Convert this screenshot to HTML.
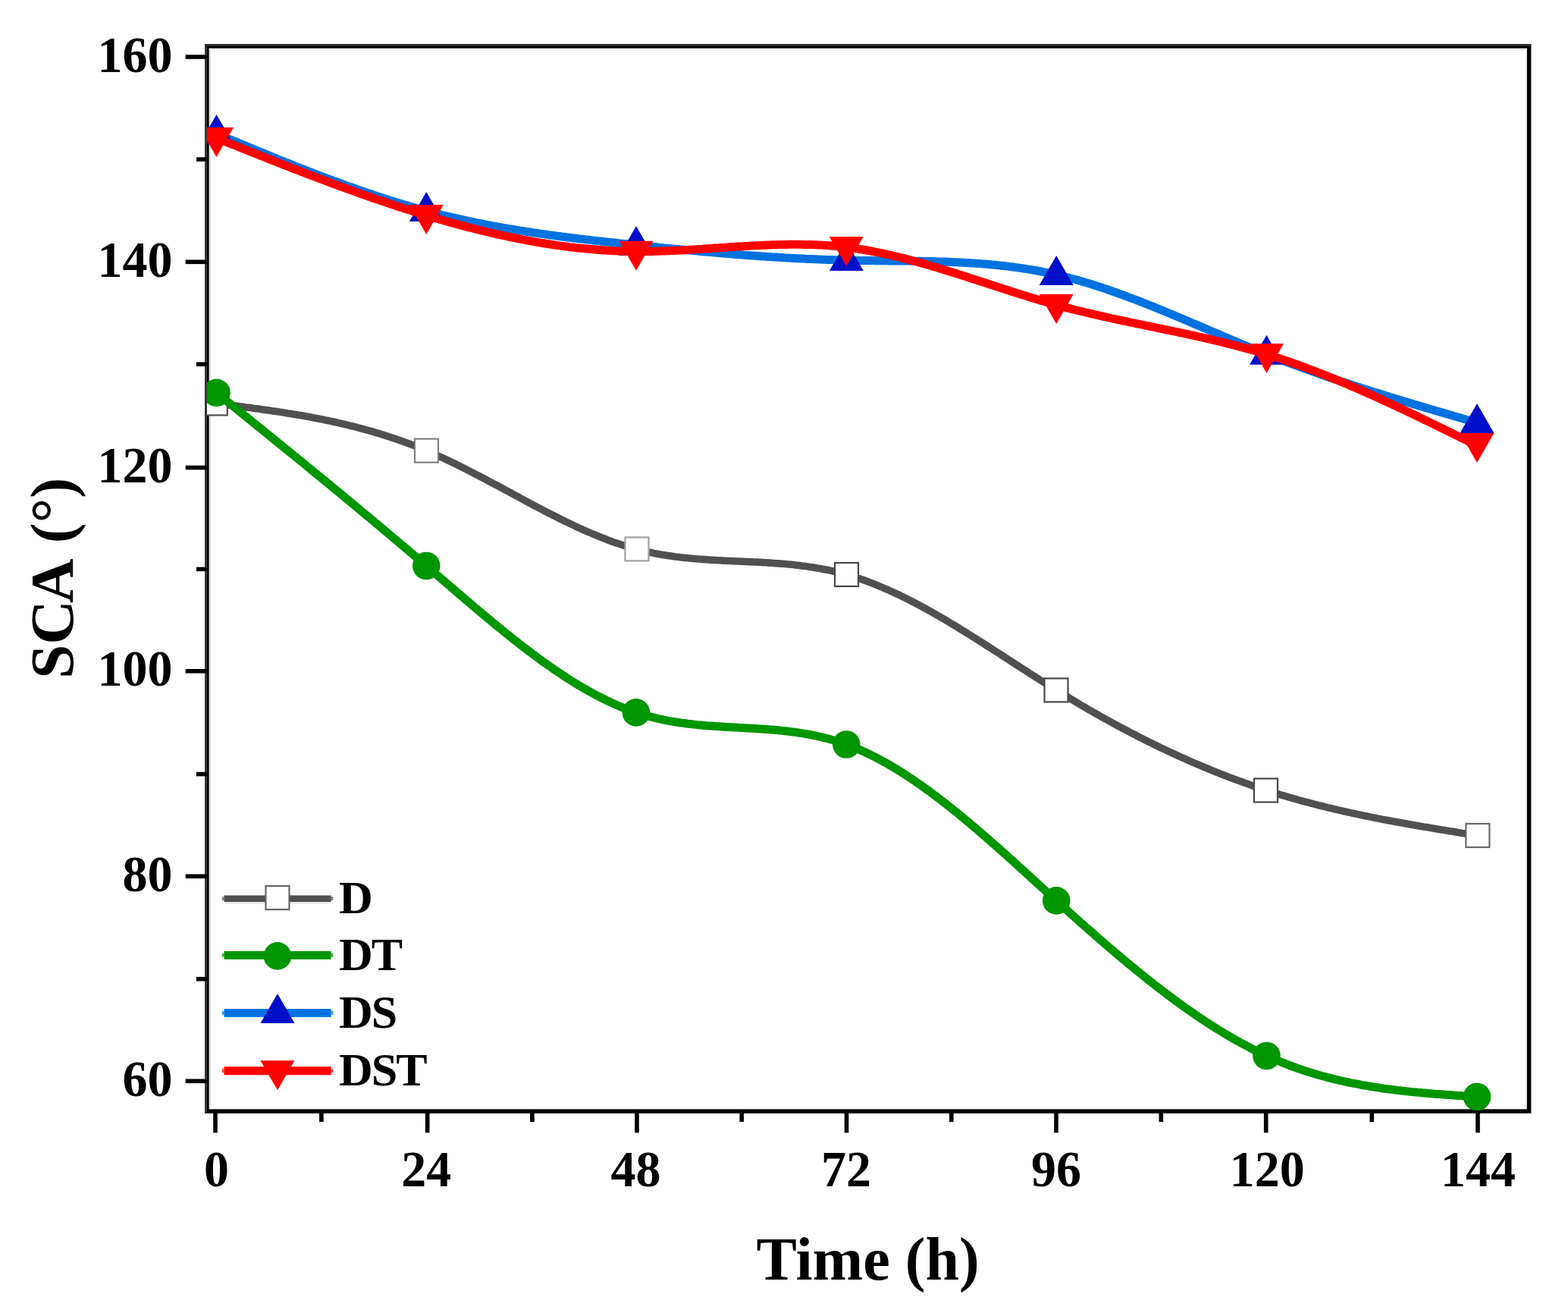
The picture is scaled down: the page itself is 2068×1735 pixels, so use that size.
<!DOCTYPE html>
<html><head><meta charset="utf-8"><title>SCA vs Time</title>
<style>html,body{margin:0;padding:0;background:#fff;overflow:hidden;}svg{display:block;}</style>
</head><body>
<svg width="2068" height="1735" viewBox="0 0 2068 1735">
<rect width="2068" height="1735" fill="#fff"/>
<defs><clipPath id="pc"><rect x="273.0" y="61.0" width="1743.6" height="1404.1"/></clipPath></defs>
<rect x="270.2" y="58.2" width="1749.2" height="1409.7" fill="#000"/><rect x="270.2" y="58.2" width="2.8" height="1409.7" fill="#383838"/><rect x="270.2" y="58.2" width="1749.2" height="2.8" fill="#2a2a2a"/><rect x="275.8" y="63.8" width="1738.0" height="1398.5" fill="#fff"/><rect x="275.8" y="63.8" width="2.6" height="1398.5" fill="#e6e6e6"/><rect x="275.8" y="63.8" width="1738.0" height="2.6" fill="#ebebeb"/>
<g stroke="#000" stroke-width="5.6" stroke-linecap="butt"><line x1="244.7" y1="1425.3" x2="273.0" y2="1425.3"/><line x1="244.7" y1="1155.3" x2="273.0" y2="1155.3"/><line x1="244.7" y1="884.8" x2="273.0" y2="884.8"/><line x1="244.7" y1="616.5" x2="273.0" y2="616.5"/><line x1="244.7" y1="345.3" x2="273.0" y2="345.3"/><line x1="244.7" y1="75.0" x2="273.0" y2="75.0"/><line x1="259.0" y1="1290.7" x2="273.0" y2="1290.7"/><line x1="259.0" y1="1020.6" x2="273.0" y2="1020.6"/><line x1="259.0" y1="750.4" x2="273.0" y2="750.4"/><line x1="259.0" y1="480.2" x2="273.0" y2="480.2"/><line x1="259.0" y1="210.1" x2="273.0" y2="210.1"/><line x1="284.0" y1="1465.1" x2="284.0" y2="1493.4"/><line x1="563.7" y1="1465.1" x2="563.7" y2="1493.4"/><line x1="840.0" y1="1465.1" x2="840.0" y2="1493.4"/><line x1="1116.5" y1="1465.1" x2="1116.5" y2="1493.4"/><line x1="1393.0" y1="1465.1" x2="1393.0" y2="1493.4"/><line x1="1669.7" y1="1465.1" x2="1669.7" y2="1493.4"/><line x1="1949.0" y1="1465.1" x2="1949.0" y2="1493.4"/><line x1="423.9" y1="1465.1" x2="423.9" y2="1479.1"/><line x1="701.9" y1="1465.1" x2="701.9" y2="1479.1"/><line x1="978.2" y1="1465.1" x2="978.2" y2="1479.1"/><line x1="1254.8" y1="1465.1" x2="1254.8" y2="1479.1"/><line x1="1531.3" y1="1465.1" x2="1531.3" y2="1479.1"/><line x1="1809.3" y1="1465.1" x2="1809.3" y2="1479.1"/></g>
<g clip-path="url(#pc)">
<polyline points="285.5,531.9 288.3,532.2 291.1,532.6 293.8,532.9 296.6,533.3 299.4,533.7 302.2,534.0 304.9,534.4 307.7,534.7 310.5,535.1 313.3,535.4 316.0,535.8 318.8,536.1 321.6,536.5 324.4,536.9 327.1,537.2 329.9,537.6 332.7,538.0 335.5,538.4 338.2,538.7 341.0,539.1 343.8,539.5 346.6,539.9 349.3,540.3 352.1,540.7 354.9,541.1 357.7,541.5 360.4,541.9 363.2,542.3 366.0,542.7 368.8,543.1 371.5,543.6 374.3,544.0 377.1,544.4 379.9,544.9 382.6,545.3 385.4,545.8 388.2,546.2 391.0,546.7 393.7,547.2 396.5,547.6 399.3,548.1 402.1,548.6 404.8,549.1 407.6,549.6 410.4,550.1 413.2,550.7 415.9,551.2 418.7,551.7 421.5,552.3 424.3,552.8 427.0,553.4 429.8,554.0 432.6,554.5 435.4,555.1 438.2,555.7 440.9,556.3 443.7,556.9 446.5,557.6 449.3,558.2 452.0,558.8 454.8,559.5 457.6,560.1 460.4,560.8 463.1,561.5 465.9,562.2 468.7,562.9 471.5,563.6 474.2,564.3 477.0,565.1 479.8,565.8 482.6,566.6 485.3,567.4 488.1,568.1 490.9,568.9 493.7,569.7 496.4,570.6 499.2,571.4 502.0,572.2 504.8,573.1 507.5,574.0 510.3,574.9 513.1,575.8 515.9,576.7 518.6,577.6 521.4,578.5 524.2,579.5 527.0,580.5 529.7,581.4 532.5,582.4 535.3,583.5 538.1,584.5 540.8,585.5 543.6,586.6 546.4,587.6 549.2,588.7 551.9,589.8 554.7,591.0 557.5,592.1 560.3,593.2 563.0,594.4 565.8,595.6 568.6,596.8 571.4,598.0 574.1,599.2 576.9,600.5 579.7,601.8 582.5,603.0 585.2,604.3 588.0,605.6 590.8,606.9 593.6,608.3 596.4,609.6 599.1,610.9 601.9,612.3 604.7,613.7 607.5,615.0 610.2,616.4 613.0,617.8 615.8,619.2 618.6,620.7 621.3,622.1 624.1,623.5 626.9,625.0 629.7,626.4 632.4,627.9 635.2,629.3 638.0,630.8 640.8,632.2 643.5,633.7 646.3,635.2 649.1,636.7 651.9,638.2 654.6,639.6 657.4,641.1 660.2,642.6 663.0,644.1 665.7,645.6 668.5,647.1 671.3,648.6 674.1,650.1 676.8,651.6 679.6,653.1 682.4,654.6 685.2,656.1 687.9,657.6 690.7,659.1 693.5,660.6 696.3,662.0 699.0,663.5 701.8,665.0 704.6,666.5 707.4,667.9 710.1,669.4 712.9,670.8 715.7,672.3 718.5,673.7 721.2,675.2 724.0,676.6 726.8,678.0 729.6,679.4 732.3,680.8 735.1,682.2 737.9,683.6 740.7,685.0 743.5,686.4 746.2,687.7 749.0,689.0 751.8,690.4 754.6,691.7 757.3,693.0 760.1,694.3 762.9,695.6 765.7,696.8 768.4,698.1 771.2,699.3 774.0,700.6 776.8,701.8 779.5,702.9 782.3,704.1 785.1,705.3 787.9,706.4 790.6,707.5 793.4,708.7 796.2,709.7 799.0,710.8 801.7,711.9 804.5,712.9 807.3,713.9 810.1,714.9 812.8,715.9 815.6,716.8 818.4,717.7 821.2,718.6 823.9,719.5 826.7,720.4 829.5,721.2 832.3,722.0 835.0,722.8 837.8,723.6 840.6,724.3 843.4,725.0 846.1,725.7 848.9,726.4 851.7,727.0 854.5,727.7 857.2,728.2 860.0,728.8 862.8,729.4 865.6,729.9 868.3,730.4 871.1,730.9 873.9,731.4 876.7,731.8 879.4,732.3 882.2,732.7 885.0,733.1 887.8,733.5 890.6,733.9 893.3,734.2 896.1,734.6 898.9,734.9 901.7,735.2 904.4,735.5 907.2,735.8 910.0,736.0 912.8,736.3 915.5,736.5 918.3,736.8 921.1,737.0 923.9,737.2 926.6,737.4 929.4,737.6 932.2,737.8 935.0,738.0 937.7,738.2 940.5,738.3 943.3,738.5 946.1,738.7 948.8,738.8 951.6,738.9 954.4,739.1 957.2,739.2 959.9,739.4 962.7,739.5 965.5,739.6 968.3,739.7 971.0,739.9 973.8,740.0 976.6,740.1 979.4,740.2 982.1,740.4 984.9,740.5 987.7,740.6 990.5,740.7 993.2,740.9 996.0,741.0 998.8,741.1 1001.6,741.3 1004.3,741.4 1007.1,741.6 1009.9,741.8 1012.7,741.9 1015.4,742.1 1018.2,742.3 1021.0,742.5 1023.8,742.7 1026.5,742.9 1029.3,743.1 1032.1,743.3 1034.9,743.5 1037.6,743.8 1040.4,744.0 1043.2,744.3 1046.0,744.6 1048.8,744.9 1051.5,745.2 1054.3,745.5 1057.1,745.9 1059.9,746.2 1062.6,746.6 1065.4,747.0 1068.2,747.4 1071.0,747.8 1073.7,748.2 1076.5,748.7 1079.3,749.2 1082.1,749.6 1084.8,750.2 1087.6,750.7 1090.4,751.2 1093.2,751.8 1095.9,752.4 1098.7,753.0 1101.5,753.7 1104.3,754.3 1107.0,755.0 1109.8,755.7 1112.6,756.5 1115.4,757.2 1118.1,758.0 1120.9,758.8 1123.7,759.7 1126.5,760.5 1129.2,761.4 1132.0,762.3 1134.8,763.3 1137.6,764.2 1140.3,765.2 1143.1,766.2 1145.9,767.3 1148.7,768.3 1151.4,769.4 1154.2,770.5 1157.0,771.6 1159.8,772.8 1162.5,773.9 1165.3,775.1 1168.1,776.3 1170.9,777.5 1173.6,778.8 1176.4,780.0 1179.2,781.3 1182.0,782.6 1184.7,783.9 1187.5,785.2 1190.3,786.6 1193.1,788.0 1195.9,789.3 1198.6,790.7 1201.4,792.2 1204.2,793.6 1207.0,795.0 1209.7,796.5 1212.5,798.0 1215.3,799.5 1218.1,801.0 1220.8,802.5 1223.6,804.0 1226.4,805.6 1229.2,807.1 1231.9,808.7 1234.7,810.3 1237.5,811.9 1240.3,813.5 1243.0,815.1 1245.8,816.7 1248.6,818.4 1251.4,820.0 1254.1,821.7 1256.9,823.4 1259.7,825.0 1262.5,826.7 1265.2,828.4 1268.0,830.1 1270.8,831.8 1273.6,833.6 1276.3,835.3 1279.1,837.0 1281.9,838.8 1284.7,840.5 1287.4,842.2 1290.2,844.0 1293.0,845.8 1295.8,847.5 1298.5,849.3 1301.3,851.1 1304.1,852.9 1306.9,854.6 1309.6,856.4 1312.4,858.2 1315.2,860.0 1318.0,861.8 1320.7,863.6 1323.5,865.4 1326.3,867.2 1329.1,869.0 1331.8,870.8 1334.6,872.6 1337.4,874.4 1340.2,876.2 1342.9,877.9 1345.7,879.7 1348.5,881.5 1351.3,883.3 1354.1,885.1 1356.8,886.9 1359.6,888.7 1362.4,890.5 1365.2,892.2 1367.9,894.0 1370.7,895.8 1373.5,897.5 1376.3,899.3 1379.0,901.0 1381.8,902.8 1384.6,904.5 1387.4,906.3 1390.1,908.0 1392.9,909.7 1395.7,911.4 1398.5,913.1 1401.2,914.8 1404.0,916.5 1406.8,918.2 1409.6,919.9 1412.3,921.6 1415.1,923.2 1417.9,924.9 1420.7,926.5 1423.4,928.2 1426.2,929.8 1429.0,931.4 1431.8,933.0 1434.5,934.7 1437.3,936.3 1440.1,937.8 1442.9,939.4 1445.6,941.0 1448.4,942.6 1451.2,944.2 1454.0,945.7 1456.7,947.3 1459.5,948.8 1462.3,950.3 1465.1,951.9 1467.8,953.4 1470.6,954.9 1473.4,956.4 1476.2,957.9 1478.9,959.4 1481.7,960.8 1484.5,962.3 1487.3,963.8 1490.0,965.2 1492.8,966.7 1495.6,968.1 1498.4,969.6 1501.2,971.0 1503.9,972.4 1506.7,973.8 1509.5,975.2 1512.3,976.6 1515.0,978.0 1517.8,979.3 1520.6,980.7 1523.4,982.1 1526.1,983.4 1528.9,984.8 1531.7,986.1 1534.5,987.4 1537.2,988.7 1540.0,990.1 1542.8,991.4 1545.6,992.6 1548.3,993.9 1551.1,995.2 1553.9,996.5 1556.7,997.7 1559.4,999.0 1562.2,1000.2 1565.0,1001.5 1567.8,1002.7 1570.5,1003.9 1573.3,1005.1 1576.1,1006.3 1578.9,1007.5 1581.6,1008.7 1584.4,1009.9 1587.2,1011.0 1590.0,1012.2 1592.7,1013.3 1595.5,1014.5 1598.3,1015.6 1601.1,1016.7 1603.8,1017.9 1606.6,1019.0 1609.4,1020.1 1612.2,1021.2 1614.9,1022.2 1617.7,1023.3 1620.5,1024.4 1623.3,1025.4 1626.0,1026.5 1628.8,1027.5 1631.6,1028.5 1634.4,1029.5 1637.1,1030.6 1639.9,1031.6 1642.7,1032.6 1645.5,1033.5 1648.3,1034.5 1651.0,1035.5 1653.8,1036.4 1656.6,1037.4 1659.4,1038.3 1662.1,1039.3 1664.9,1040.2 1667.7,1041.1 1670.5,1042.0 1673.2,1042.9 1676.0,1043.8 1678.8,1044.6 1681.6,1045.5 1684.3,1046.4 1687.1,1047.2 1689.9,1048.1 1692.7,1048.9 1695.4,1049.7 1698.2,1050.5 1701.0,1051.3 1703.8,1052.1 1706.5,1052.9 1709.3,1053.7 1712.1,1054.5 1714.9,1055.3 1717.6,1056.0 1720.4,1056.8 1723.2,1057.5 1726.0,1058.2 1728.7,1059.0 1731.5,1059.7 1734.3,1060.4 1737.1,1061.1 1739.8,1061.8 1742.6,1062.5 1745.4,1063.2 1748.2,1063.9 1750.9,1064.6 1753.7,1065.2 1756.5,1065.9 1759.3,1066.6 1762.0,1067.2 1764.8,1067.9 1767.6,1068.5 1770.4,1069.1 1773.1,1069.8 1775.9,1070.4 1778.7,1071.0 1781.5,1071.6 1784.2,1072.2 1787.0,1072.8 1789.8,1073.4 1792.6,1074.0 1795.3,1074.6 1798.1,1075.2 1800.9,1075.7 1803.7,1076.3 1806.5,1076.9 1809.2,1077.4 1812.0,1078.0 1814.8,1078.5 1817.6,1079.1 1820.3,1079.6 1823.1,1080.2 1825.9,1080.7 1828.7,1081.2 1831.4,1081.7 1834.2,1082.3 1837.0,1082.8 1839.8,1083.3 1842.5,1083.8 1845.3,1084.3 1848.1,1084.8 1850.9,1085.3 1853.6,1085.8 1856.4,1086.3 1859.2,1086.8 1862.0,1087.3 1864.7,1087.8 1867.5,1088.3 1870.3,1088.7 1873.1,1089.2 1875.8,1089.7 1878.6,1090.2 1881.4,1090.6 1884.2,1091.1 1886.9,1091.6 1889.7,1092.0 1892.5,1092.5 1895.3,1093.0 1898.0,1093.4 1900.8,1093.9 1903.6,1094.3 1906.4,1094.8 1909.1,1095.2 1911.9,1095.7 1914.7,1096.1 1917.5,1096.6 1920.2,1097.0 1923.0,1097.5 1925.8,1097.9 1928.6,1098.4 1931.3,1098.8 1934.1,1099.3 1936.9,1099.7 1939.7,1100.2 1942.4,1100.6 1945.2,1101.1 1948.0,1101.5" fill="none" stroke="#505050" stroke-width="9.6" stroke-linejoin="round"/>
<rect x="268.8" y="516.4" width="31.0" height="31.0" fill="#fff" stroke="#505050" stroke-width="2.2"/>
<rect x="547.0" y="578.6" width="31.0" height="31.0" fill="#fff" stroke="#808080" stroke-width="2.2"/>
<rect x="824.5" y="708.4" width="31.0" height="31.0" fill="#fff" stroke="#a0a0a0" stroke-width="2.2"/>
<rect x="1101.0" y="742.0" width="31.0" height="31.0" fill="#fff" stroke="#464646" stroke-width="2.2"/>
<rect x="1377.5" y="894.4" width="31.0" height="31.0" fill="#fff" stroke="#484848" stroke-width="2.2"/>
<rect x="1654.0" y="1026.5" width="31.0" height="31.0" fill="#fff" stroke="#484848" stroke-width="2.2"/>
<rect x="1933.4" y="1086.0" width="31.0" height="31.0" fill="#fff" stroke="#6a6a6a" stroke-width="2.2"/>
<polyline points="285.5,517.8 288.3,520.0 291.1,522.3 293.8,524.5 296.6,526.8 299.4,529.0 302.2,531.3 304.9,533.5 307.7,535.7 310.5,538.0 313.3,540.2 316.0,542.5 318.8,544.7 321.6,547.0 324.4,549.2 327.1,551.5 329.9,553.7 332.7,556.0 335.5,558.2 338.2,560.4 341.0,562.7 343.8,564.9 346.6,567.2 349.3,569.4 352.1,571.7 354.9,573.9 357.7,576.2 360.4,578.4 363.2,580.7 366.0,583.0 368.8,585.2 371.5,587.5 374.3,589.7 377.1,592.0 379.9,594.2 382.6,596.5 385.4,598.8 388.2,601.0 391.0,603.3 393.7,605.5 396.5,607.8 399.3,610.1 402.1,612.3 404.8,614.6 407.6,616.9 410.4,619.1 413.2,621.4 415.9,623.7 418.7,626.0 421.5,628.2 424.3,630.5 427.0,632.8 429.8,635.1 432.6,637.3 435.4,639.6 438.2,641.9 440.9,644.2 443.7,646.5 446.5,648.8 449.3,651.1 452.0,653.4 454.8,655.6 457.6,657.9 460.4,660.2 463.1,662.5 465.9,664.8 468.7,667.1 471.5,669.4 474.2,671.7 477.0,674.1 479.8,676.4 482.6,678.7 485.3,681.0 488.1,683.3 490.9,685.6 493.7,687.9 496.4,690.3 499.2,692.6 502.0,694.9 504.8,697.2 507.5,699.6 510.3,701.9 513.1,704.2 515.9,706.6 518.6,708.9 521.4,711.2 524.2,713.6 527.0,715.9 529.7,718.3 532.5,720.6 535.3,723.0 538.1,725.3 540.8,727.7 543.6,730.0 546.4,732.4 549.2,734.8 551.9,737.1 554.7,739.5 557.5,741.9 560.3,744.3 563.0,746.6 565.8,749.0 568.6,751.4 571.4,753.8 574.1,756.2 576.9,758.6 579.7,761.0 582.5,763.3 585.2,765.7 588.0,768.1 590.8,770.5 593.6,772.9 596.4,775.3 599.1,777.7 601.9,780.1 604.7,782.4 607.5,784.8 610.2,787.2 613.0,789.6 615.8,791.9 618.6,794.3 621.3,796.7 624.1,799.0 626.9,801.4 629.7,803.7 632.4,806.0 635.2,808.4 638.0,810.7 640.8,813.0 643.5,815.3 646.3,817.6 649.1,819.9 651.9,822.2 654.6,824.5 657.4,826.8 660.2,829.1 663.0,831.3 665.7,833.6 668.5,835.8 671.3,838.0 674.1,840.2 676.8,842.4 679.6,844.6 682.4,846.8 685.2,849.0 687.9,851.1 690.7,853.3 693.5,855.4 696.3,857.5 699.0,859.6 701.8,861.7 704.6,863.7 707.4,865.8 710.1,867.8 712.9,869.9 715.7,871.9 718.5,873.9 721.2,875.8 724.0,877.8 726.8,879.7 729.6,881.7 732.3,883.6 735.1,885.4 737.9,887.3 740.7,889.2 743.5,891.0 746.2,892.8 749.0,894.6 751.8,896.4 754.6,898.1 757.3,899.8 760.1,901.5 762.9,903.2 765.7,904.9 768.4,906.5 771.2,908.1 774.0,909.7 776.8,911.3 779.5,912.8 782.3,914.3 785.1,915.8 787.9,917.3 790.6,918.7 793.4,920.1 796.2,921.5 799.0,922.9 801.7,924.2 804.5,925.5 807.3,926.8 810.1,928.1 812.8,929.3 815.6,930.5 818.4,931.7 821.2,932.8 823.9,933.9 826.7,935.0 829.5,936.0 832.3,937.1 835.0,938.0 837.8,939.0 840.6,939.9 843.4,940.8 846.1,941.7 848.9,942.5 851.7,943.3 854.5,944.1 857.2,944.8 860.0,945.5 862.8,946.2 865.6,946.9 868.3,947.5 871.1,948.2 873.9,948.7 876.7,949.3 879.4,949.8 882.2,950.4 885.0,950.9 887.8,951.3 890.6,951.8 893.3,952.2 896.1,952.7 898.9,953.1 901.7,953.4 904.4,953.8 907.2,954.2 910.0,954.5 912.8,954.8 915.5,955.1 918.3,955.4 921.1,955.7 923.9,955.9 926.6,956.2 929.4,956.4 932.2,956.7 935.0,956.9 937.7,957.1 940.5,957.3 943.3,957.5 946.1,957.7 948.8,957.8 951.6,958.0 954.4,958.2 957.2,958.4 959.9,958.5 962.7,958.7 965.5,958.8 968.3,959.0 971.0,959.1 973.8,959.3 976.6,959.4 979.4,959.6 982.1,959.7 984.9,959.9 987.7,960.0 990.5,960.2 993.2,960.3 996.0,960.5 998.8,960.7 1001.6,960.9 1004.3,961.0 1007.1,961.2 1009.9,961.4 1012.7,961.6 1015.4,961.9 1018.2,962.1 1021.0,962.3 1023.8,962.6 1026.5,962.8 1029.3,963.1 1032.1,963.4 1034.9,963.7 1037.6,964.0 1040.4,964.3 1043.2,964.7 1046.0,965.0 1048.8,965.4 1051.5,965.8 1054.3,966.2 1057.1,966.6 1059.9,967.1 1062.6,967.5 1065.4,968.0 1068.2,968.5 1071.0,969.1 1073.7,969.6 1076.5,970.2 1079.3,970.8 1082.1,971.5 1084.8,972.1 1087.6,972.8 1090.4,973.5 1093.2,974.2 1095.9,975.0 1098.7,975.8 1101.5,976.6 1104.3,977.5 1107.0,978.3 1109.8,979.2 1112.6,980.2 1115.4,981.2 1118.1,982.2 1120.9,983.2 1123.7,984.3 1126.5,985.4 1129.2,986.5 1132.0,987.7 1134.8,988.9 1137.6,990.1 1140.3,991.4 1143.1,992.7 1145.9,994.0 1148.7,995.4 1151.4,996.8 1154.2,998.2 1157.0,999.6 1159.8,1001.1 1162.5,1002.6 1165.3,1004.1 1168.1,1005.7 1170.9,1007.2 1173.6,1008.8 1176.4,1010.5 1179.2,1012.1 1182.0,1013.8 1184.7,1015.5 1187.5,1017.2 1190.3,1019.0 1193.1,1020.8 1195.9,1022.6 1198.6,1024.4 1201.4,1026.2 1204.2,1028.1 1207.0,1030.0 1209.7,1031.9 1212.5,1033.8 1215.3,1035.8 1218.1,1037.8 1220.8,1039.8 1223.6,1041.8 1226.4,1043.8 1229.2,1045.9 1231.9,1047.9 1234.7,1050.0 1237.5,1052.1 1240.3,1054.2 1243.0,1056.4 1245.8,1058.5 1248.6,1060.7 1251.4,1062.9 1254.1,1065.1 1256.9,1067.3 1259.7,1069.6 1262.5,1071.8 1265.2,1074.1 1268.0,1076.4 1270.8,1078.6 1273.6,1080.9 1276.3,1083.3 1279.1,1085.6 1281.9,1087.9 1284.7,1090.3 1287.4,1092.6 1290.2,1095.0 1293.0,1097.4 1295.8,1099.8 1298.5,1102.2 1301.3,1104.6 1304.1,1107.0 1306.9,1109.5 1309.6,1111.9 1312.4,1114.4 1315.2,1116.8 1318.0,1119.3 1320.7,1121.7 1323.5,1124.2 1326.3,1126.7 1329.1,1129.2 1331.8,1131.7 1334.6,1134.2 1337.4,1136.7 1340.2,1139.2 1342.9,1141.7 1345.7,1144.2 1348.5,1146.7 1351.3,1149.3 1354.1,1151.8 1356.8,1154.3 1359.6,1156.8 1362.4,1159.4 1365.2,1161.9 1367.9,1164.4 1370.7,1166.9 1373.5,1169.5 1376.3,1172.0 1379.0,1174.5 1381.8,1177.1 1384.6,1179.6 1387.4,1182.1 1390.1,1184.6 1392.9,1187.1 1395.7,1189.6 1398.5,1192.2 1401.2,1194.7 1404.0,1197.2 1406.8,1199.7 1409.6,1202.2 1412.3,1204.7 1415.1,1207.1 1417.9,1209.6 1420.7,1212.1 1423.4,1214.6 1426.2,1217.1 1429.0,1219.5 1431.8,1222.0 1434.5,1224.4 1437.3,1226.9 1440.1,1229.3 1442.9,1231.7 1445.6,1234.2 1448.4,1236.6 1451.2,1239.0 1454.0,1241.4 1456.7,1243.8 1459.5,1246.2 1462.3,1248.6 1465.1,1251.0 1467.8,1253.3 1470.6,1255.7 1473.4,1258.0 1476.2,1260.4 1478.9,1262.7 1481.7,1265.0 1484.5,1267.4 1487.3,1269.7 1490.0,1272.0 1492.8,1274.2 1495.6,1276.5 1498.4,1278.8 1501.2,1281.0 1503.9,1283.3 1506.7,1285.5 1509.5,1287.8 1512.3,1290.0 1515.0,1292.2 1517.8,1294.4 1520.6,1296.5 1523.4,1298.7 1526.1,1300.9 1528.9,1303.0 1531.7,1305.2 1534.5,1307.3 1537.2,1309.4 1540.0,1311.5 1542.8,1313.6 1545.6,1315.6 1548.3,1317.7 1551.1,1319.7 1553.9,1321.7 1556.7,1323.8 1559.4,1325.8 1562.2,1327.7 1565.0,1329.7 1567.8,1331.7 1570.5,1333.6 1573.3,1335.5 1576.1,1337.5 1578.9,1339.3 1581.6,1341.2 1584.4,1343.1 1587.2,1344.9 1590.0,1346.8 1592.7,1348.6 1595.5,1350.4 1598.3,1352.2 1601.1,1353.9 1603.8,1355.7 1606.6,1357.4 1609.4,1359.1 1612.2,1360.8 1614.9,1362.5 1617.7,1364.1 1620.5,1365.8 1623.3,1367.4 1626.0,1369.0 1628.8,1370.6 1631.6,1372.2 1634.4,1373.7 1637.1,1375.2 1639.9,1376.7 1642.7,1378.2 1645.5,1379.7 1648.3,1381.1 1651.0,1382.6 1653.8,1384.0 1656.6,1385.4 1659.4,1386.7 1662.1,1388.1 1664.9,1389.4 1667.7,1390.7 1670.5,1392.0 1673.2,1393.2 1676.0,1394.5 1678.8,1395.7 1681.6,1396.9 1684.3,1398.1 1687.1,1399.2 1689.9,1400.3 1692.7,1401.4 1695.4,1402.5 1698.2,1403.6 1701.0,1404.7 1703.8,1405.7 1706.5,1406.7 1709.3,1407.7 1712.1,1408.7 1714.9,1409.6 1717.6,1410.6 1720.4,1411.5 1723.2,1412.4 1726.0,1413.3 1728.7,1414.1 1731.5,1415.0 1734.3,1415.8 1737.1,1416.6 1739.8,1417.4 1742.6,1418.2 1745.4,1419.0 1748.2,1419.7 1750.9,1420.5 1753.7,1421.2 1756.5,1421.9 1759.3,1422.6 1762.0,1423.3 1764.8,1423.9 1767.6,1424.6 1770.4,1425.2 1773.1,1425.8 1775.9,1426.4 1778.7,1427.0 1781.5,1427.6 1784.2,1428.1 1787.0,1428.7 1789.8,1429.2 1792.6,1429.7 1795.3,1430.3 1798.1,1430.8 1800.9,1431.2 1803.7,1431.7 1806.5,1432.2 1809.2,1432.6 1812.0,1433.1 1814.8,1433.5 1817.6,1433.9 1820.3,1434.4 1823.1,1434.8 1825.9,1435.2 1828.7,1435.5 1831.4,1435.9 1834.2,1436.3 1837.0,1436.6 1839.8,1437.0 1842.5,1437.3 1845.3,1437.6 1848.1,1438.0 1850.9,1438.3 1853.6,1438.6 1856.4,1438.9 1859.2,1439.2 1862.0,1439.5 1864.7,1439.7 1867.5,1440.0 1870.3,1440.3 1873.1,1440.5 1875.8,1440.8 1878.6,1441.0 1881.4,1441.3 1884.2,1441.5 1886.9,1441.7 1889.7,1442.0 1892.5,1442.2 1895.3,1442.4 1898.0,1442.6 1900.8,1442.8 1903.6,1443.0 1906.4,1443.2 1909.1,1443.4 1911.9,1443.6 1914.7,1443.8 1917.5,1444.0 1920.2,1444.2 1923.0,1444.4 1925.8,1444.6 1928.6,1444.8 1931.3,1444.9 1934.1,1445.1 1936.9,1445.3 1939.7,1445.5 1942.4,1445.6 1945.2,1445.8 1948.0,1446.0" fill="none" stroke="#009600" stroke-width="11.0" stroke-linejoin="round"/>
<circle cx="285.5" cy="517.8" r="18.3" fill="#009600"/>
<circle cx="562.3" cy="746.0" r="18.3" fill="#009600"/>
<circle cx="839.0" cy="939.4" r="18.3" fill="#009600"/>
<circle cx="1116.3" cy="981.5" r="18.3" fill="#009600"/>
<circle cx="1393.2" cy="1187.4" r="18.3" fill="#009600"/>
<circle cx="1670.5" cy="1392.0" r="18.3" fill="#009600"/>
<circle cx="1948.0" cy="1446.0" r="18.3" fill="#009600"/>
<polyline points="285.5,176.2 288.3,177.4 291.1,178.5 293.8,179.7 296.6,180.8 299.4,182.0 302.2,183.2 304.9,184.3 307.7,185.5 310.5,186.6 313.3,187.8 316.0,189.0 318.8,190.1 321.6,191.3 324.4,192.4 327.1,193.6 329.9,194.7 332.7,195.9 335.5,197.0 338.2,198.2 341.0,199.3 343.8,200.5 346.6,201.6 349.3,202.7 352.1,203.9 354.9,205.0 357.7,206.1 360.4,207.3 363.2,208.4 366.0,209.5 368.8,210.7 371.5,211.8 374.3,212.9 377.1,214.0 379.9,215.1 382.6,216.2 385.4,217.4 388.2,218.5 391.0,219.6 393.7,220.7 396.5,221.8 399.3,222.8 402.1,223.9 404.8,225.0 407.6,226.1 410.4,227.2 413.2,228.3 415.9,229.3 418.7,230.4 421.5,231.5 424.3,232.5 427.0,233.6 429.8,234.6 432.6,235.7 435.4,236.7 438.2,237.7 440.9,238.8 443.7,239.8 446.5,240.8 449.3,241.8 452.0,242.8 454.8,243.9 457.6,244.9 460.4,245.9 463.1,246.8 465.9,247.8 468.7,248.8 471.5,249.8 474.2,250.8 477.0,251.7 479.8,252.7 482.6,253.6 485.3,254.6 488.1,255.5 490.9,256.5 493.7,257.4 496.4,258.3 499.2,259.2 502.0,260.1 504.8,261.0 507.5,261.9 510.3,262.8 513.1,263.7 515.9,264.6 518.6,265.4 521.4,266.3 524.2,267.1 527.0,268.0 529.7,268.8 532.5,269.7 535.3,270.5 538.1,271.3 540.8,272.1 543.6,272.9 546.4,273.7 549.2,274.5 551.9,275.3 554.7,276.0 557.5,276.8 560.3,277.6 563.0,278.3 565.8,279.0 568.6,279.8 571.4,280.5 574.1,281.2 576.9,281.9 579.7,282.6 582.5,283.3 585.2,284.0 588.0,284.6 590.8,285.3 593.6,286.0 596.4,286.6 599.1,287.2 601.9,287.9 604.7,288.5 607.5,289.1 610.2,289.7 613.0,290.3 615.8,290.9 618.6,291.5 621.3,292.1 624.1,292.7 626.9,293.3 629.7,293.8 632.4,294.4 635.2,294.9 638.0,295.5 640.8,296.0 643.5,296.6 646.3,297.1 649.1,297.6 651.9,298.1 654.6,298.6 657.4,299.1 660.2,299.6 663.0,300.1 665.7,300.6 668.5,301.1 671.3,301.6 674.1,302.0 676.8,302.5 679.6,303.0 682.4,303.4 685.2,303.9 687.9,304.3 690.7,304.7 693.5,305.2 696.3,305.6 699.0,306.0 701.8,306.4 704.6,306.9 707.4,307.3 710.1,307.7 712.9,308.1 715.7,308.5 718.5,308.9 721.2,309.3 724.0,309.7 726.8,310.0 729.6,310.4 732.3,310.8 735.1,311.2 737.9,311.5 740.7,311.9 743.5,312.2 746.2,312.6 749.0,313.0 751.8,313.3 754.6,313.7 757.3,314.0 760.1,314.3 762.9,314.7 765.7,315.0 768.4,315.3 771.2,315.7 774.0,316.0 776.8,316.3 779.5,316.6 782.3,317.0 785.1,317.3 787.9,317.6 790.6,317.9 793.4,318.2 796.2,318.5 799.0,318.8 801.7,319.1 804.5,319.4 807.3,319.7 810.1,320.0 812.8,320.3 815.6,320.6 818.4,320.9 821.2,321.2 823.9,321.5 826.7,321.8 829.5,322.1 832.3,322.4 835.0,322.7 837.8,323.0 840.6,323.3 843.4,323.6 846.1,323.8 848.9,324.1 851.7,324.4 854.5,324.7 857.2,325.0 860.0,325.3 862.8,325.5 865.6,325.8 868.3,326.1 871.1,326.4 873.9,326.6 876.7,326.9 879.4,327.2 882.2,327.5 885.0,327.7 887.8,328.0 890.6,328.3 893.3,328.5 896.1,328.8 898.9,329.1 901.7,329.3 904.4,329.6 907.2,329.9 910.0,330.1 912.8,330.4 915.5,330.6 918.3,330.9 921.1,331.2 923.9,331.4 926.6,331.7 929.4,331.9 932.2,332.1 935.0,332.4 937.7,332.6 940.5,332.9 943.3,333.1 946.1,333.4 948.8,333.6 951.6,333.8 954.4,334.1 957.2,334.3 959.9,334.5 962.7,334.7 965.5,335.0 968.3,335.2 971.0,335.4 973.8,335.6 976.6,335.8 979.4,336.0 982.1,336.3 984.9,336.5 987.7,336.7 990.5,336.9 993.2,337.1 996.0,337.3 998.8,337.5 1001.6,337.7 1004.3,337.9 1007.1,338.0 1009.9,338.2 1012.7,338.4 1015.4,338.6 1018.2,338.8 1021.0,338.9 1023.8,339.1 1026.5,339.3 1029.3,339.5 1032.1,339.6 1034.9,339.8 1037.6,339.9 1040.4,340.1 1043.2,340.2 1046.0,340.4 1048.8,340.5 1051.5,340.7 1054.3,340.8 1057.1,341.0 1059.9,341.1 1062.6,341.2 1065.4,341.4 1068.2,341.5 1071.0,341.6 1073.7,341.7 1076.5,341.8 1079.3,341.9 1082.1,342.1 1084.8,342.2 1087.6,342.3 1090.4,342.4 1093.2,342.5 1095.9,342.5 1098.7,342.6 1101.5,342.7 1104.3,342.8 1107.0,342.9 1109.8,342.9 1112.6,343.0 1115.4,343.1 1118.1,343.1 1120.9,343.2 1123.7,343.3 1126.5,343.3 1129.2,343.4 1132.0,343.4 1134.8,343.4 1137.6,343.5 1140.3,343.5 1143.1,343.6 1145.9,343.6 1148.7,343.6 1151.4,343.6 1154.2,343.7 1157.0,343.7 1159.8,343.7 1162.5,343.8 1165.3,343.8 1168.1,343.8 1170.9,343.8 1173.6,343.9 1176.4,343.9 1179.2,343.9 1182.0,343.9 1184.7,344.0 1187.5,344.0 1190.3,344.0 1193.1,344.0 1195.9,344.1 1198.6,344.1 1201.4,344.1 1204.2,344.2 1207.0,344.2 1209.7,344.3 1212.5,344.3 1215.3,344.4 1218.1,344.4 1220.8,344.5 1223.6,344.5 1226.4,344.6 1229.2,344.6 1231.9,344.7 1234.7,344.8 1237.5,344.9 1240.3,345.0 1243.0,345.0 1245.8,345.1 1248.6,345.2 1251.4,345.3 1254.1,345.4 1256.9,345.6 1259.7,345.7 1262.5,345.8 1265.2,345.9 1268.0,346.1 1270.8,346.2 1273.6,346.4 1276.3,346.5 1279.1,346.7 1281.9,346.9 1284.7,347.0 1287.4,347.2 1290.2,347.4 1293.0,347.6 1295.8,347.9 1298.5,348.1 1301.3,348.3 1304.1,348.5 1306.9,348.8 1309.6,349.1 1312.4,349.3 1315.2,349.6 1318.0,349.9 1320.7,350.2 1323.5,350.5 1326.3,350.8 1329.1,351.1 1331.8,351.5 1334.6,351.8 1337.4,352.2 1340.2,352.6 1342.9,353.0 1345.7,353.4 1348.5,353.8 1351.3,354.2 1354.1,354.6 1356.8,355.1 1359.6,355.5 1362.4,356.0 1365.2,356.5 1367.9,357.0 1370.7,357.5 1373.5,358.0 1376.3,358.6 1379.0,359.1 1381.8,359.7 1384.6,360.3 1387.4,360.9 1390.1,361.5 1392.9,362.1 1395.7,362.8 1398.5,363.4 1401.2,364.1 1404.0,364.8 1406.8,365.5 1409.6,366.2 1412.3,367.0 1415.1,367.7 1417.9,368.5 1420.7,369.2 1423.4,370.0 1426.2,370.8 1429.0,371.6 1431.8,372.5 1434.5,373.3 1437.3,374.1 1440.1,375.0 1442.9,375.9 1445.6,376.8 1448.4,377.7 1451.2,378.6 1454.0,379.5 1456.7,380.4 1459.5,381.3 1462.3,382.3 1465.1,383.3 1467.8,384.2 1470.6,385.2 1473.4,386.2 1476.2,387.2 1478.9,388.2 1481.7,389.2 1484.5,390.2 1487.3,391.3 1490.0,392.3 1492.8,393.4 1495.6,394.4 1498.4,395.5 1501.2,396.5 1503.9,397.6 1506.7,398.7 1509.5,399.8 1512.3,400.9 1515.0,402.0 1517.8,403.1 1520.6,404.2 1523.4,405.3 1526.1,406.5 1528.9,407.6 1531.7,408.7 1534.5,409.9 1537.2,411.0 1540.0,412.2 1542.8,413.3 1545.6,414.5 1548.3,415.6 1551.1,416.8 1553.9,418.0 1556.7,419.1 1559.4,420.3 1562.2,421.5 1565.0,422.6 1567.8,423.8 1570.5,425.0 1573.3,426.2 1576.1,427.4 1578.9,428.6 1581.6,429.7 1584.4,430.9 1587.2,432.1 1590.0,433.3 1592.7,434.5 1595.5,435.7 1598.3,436.9 1601.1,438.1 1603.8,439.2 1606.6,440.4 1609.4,441.6 1612.2,442.8 1614.9,444.0 1617.7,445.2 1620.5,446.3 1623.3,447.5 1626.0,448.7 1628.8,449.9 1631.6,451.0 1634.4,452.2 1637.1,453.4 1639.9,454.5 1642.7,455.7 1645.5,456.8 1648.3,458.0 1651.0,459.1 1653.8,460.3 1656.6,461.4 1659.4,462.5 1662.1,463.6 1664.9,464.8 1667.7,465.9 1670.5,467.0 1673.2,468.1 1676.0,469.2 1678.8,470.3 1681.6,471.3 1684.3,472.4 1687.1,473.5 1689.9,474.6 1692.7,475.6 1695.4,476.7 1698.2,477.7 1701.0,478.8 1703.8,479.8 1706.5,480.8 1709.3,481.9 1712.1,482.9 1714.9,483.9 1717.6,484.9 1720.4,485.9 1723.2,486.9 1726.0,487.9 1728.7,488.9 1731.5,489.9 1734.3,490.9 1737.1,491.9 1739.8,492.9 1742.6,493.8 1745.4,494.8 1748.2,495.8 1750.9,496.7 1753.7,497.7 1756.5,498.6 1759.3,499.6 1762.0,500.5 1764.8,501.4 1767.6,502.4 1770.4,503.3 1773.1,504.2 1775.9,505.1 1778.7,506.0 1781.5,507.0 1784.2,507.9 1787.0,508.8 1789.8,509.7 1792.6,510.6 1795.3,511.5 1798.1,512.4 1800.9,513.3 1803.7,514.1 1806.5,515.0 1809.2,515.9 1812.0,516.8 1814.8,517.7 1817.6,518.5 1820.3,519.4 1823.1,520.3 1825.9,521.1 1828.7,522.0 1831.4,522.8 1834.2,523.7 1837.0,524.5 1839.8,525.4 1842.5,526.2 1845.3,527.1 1848.1,527.9 1850.9,528.8 1853.6,529.6 1856.4,530.4 1859.2,531.3 1862.0,532.1 1864.7,532.9 1867.5,533.8 1870.3,534.6 1873.1,535.4 1875.8,536.2 1878.6,537.1 1881.4,537.9 1884.2,538.7 1886.9,539.5 1889.7,540.3 1892.5,541.2 1895.3,542.0 1898.0,542.8 1900.8,543.6 1903.6,544.4 1906.4,545.2 1909.1,546.0 1911.9,546.8 1914.7,547.6 1917.5,548.5 1920.2,549.3 1923.0,550.1 1925.8,550.9 1928.6,551.7 1931.3,552.5 1934.1,553.3 1936.9,554.1 1939.7,554.9 1942.4,555.7 1945.2,556.5 1948.0,557.3" fill="none" stroke="#0072E0" stroke-width="11.0" stroke-linejoin="round"/>
<polygon points="285.5,151.0 308.0,190.0 263.0,190.0" fill="#0010C8"/>
<polygon points="562.3,252.9 584.8,291.9 539.8,291.9" fill="#0010C8"/>
<polygon points="839.0,297.9 861.5,336.9 816.5,336.9" fill="#0010C8"/>
<polygon points="1116.3,317.9 1138.8,356.9 1093.8,356.9" fill="#0010C8"/>
<polygon points="1393.2,337.0 1415.7,376.0 1370.7,376.0" fill="#0010C8"/>
<polygon points="1670.5,441.8 1693.0,480.8 1648.0,480.8" fill="#0010C8"/>
<polygon points="1948.0,532.1 1970.5,571.1 1925.5,571.1" fill="#0010C8"/>
<polyline points="285.5,182.0 288.3,183.1 291.1,184.2 293.8,185.3 296.6,186.5 299.4,187.6 302.2,188.7 304.9,189.8 307.7,190.9 310.5,192.0 313.3,193.1 316.0,194.2 318.8,195.4 321.6,196.5 324.4,197.6 327.1,198.7 329.9,199.8 332.7,200.9 335.5,202.0 338.2,203.1 341.0,204.2 343.8,205.3 346.6,206.4 349.3,207.5 352.1,208.6 354.9,209.7 357.7,210.8 360.4,211.9 363.2,213.0 366.0,214.1 368.8,215.2 371.5,216.3 374.3,217.3 377.1,218.4 379.9,219.5 382.6,220.6 385.4,221.7 388.2,222.8 391.0,223.8 393.7,224.9 396.5,226.0 399.3,227.0 402.1,228.1 404.8,229.2 407.6,230.2 410.4,231.3 413.2,232.4 415.9,233.4 418.7,234.5 421.5,235.5 424.3,236.6 427.0,237.6 429.8,238.6 432.6,239.7 435.4,240.7 438.2,241.7 440.9,242.8 443.7,243.8 446.5,244.8 449.3,245.8 452.0,246.9 454.8,247.9 457.6,248.9 460.4,249.9 463.1,250.9 465.9,251.9 468.7,252.9 471.5,253.9 474.2,254.9 477.0,255.9 479.8,256.8 482.6,257.8 485.3,258.8 488.1,259.8 490.9,260.7 493.7,261.7 496.4,262.6 499.2,263.6 502.0,264.5 504.8,265.5 507.5,266.4 510.3,267.4 513.1,268.3 515.9,269.2 518.6,270.1 521.4,271.1 524.2,272.0 527.0,272.9 529.7,273.8 532.5,274.7 535.3,275.6 538.1,276.5 540.8,277.3 543.6,278.2 546.4,279.1 549.2,280.0 551.9,280.8 554.7,281.7 557.5,282.5 560.3,283.4 563.0,284.2 565.8,285.1 568.6,285.9 571.4,286.7 574.1,287.5 576.9,288.3 579.7,289.2 582.5,290.0 585.2,290.8 588.0,291.5 590.8,292.3 593.6,293.1 596.4,293.9 599.1,294.6 601.9,295.4 604.7,296.2 607.5,296.9 610.2,297.6 613.0,298.4 615.8,299.1 618.6,299.8 621.3,300.5 624.1,301.2 626.9,301.9 629.7,302.6 632.4,303.3 635.2,304.0 638.0,304.7 640.8,305.4 643.5,306.0 646.3,306.7 649.1,307.3 651.9,307.9 654.6,308.6 657.4,309.2 660.2,309.8 663.0,310.4 665.7,311.0 668.5,311.6 671.3,312.2 674.1,312.8 676.8,313.4 679.6,313.9 682.4,314.5 685.2,315.0 687.9,315.6 690.7,316.1 693.5,316.6 696.3,317.1 699.0,317.6 701.8,318.1 704.6,318.6 707.4,319.1 710.1,319.6 712.9,320.1 715.7,320.5 718.5,321.0 721.2,321.4 724.0,321.8 726.8,322.3 729.6,322.7 732.3,323.1 735.1,323.5 737.9,323.9 740.7,324.3 743.5,324.6 746.2,325.0 749.0,325.3 751.8,325.7 754.6,326.0 757.3,326.3 760.1,326.7 762.9,327.0 765.7,327.3 768.4,327.5 771.2,327.8 774.0,328.1 776.8,328.3 779.5,328.6 782.3,328.8 785.1,329.1 787.9,329.3 790.6,329.5 793.4,329.7 796.2,329.9 799.0,330.1 801.7,330.2 804.5,330.4 807.3,330.5 810.1,330.7 812.8,330.8 815.6,330.9 818.4,331.0 821.2,331.1 823.9,331.2 826.7,331.3 829.5,331.4 832.3,331.4 835.0,331.5 837.8,331.5 840.6,331.5 843.4,331.5 846.1,331.5 848.9,331.5 851.7,331.5 854.5,331.5 857.2,331.4 860.0,331.4 862.8,331.3 865.6,331.3 868.3,331.2 871.1,331.1 873.9,331.0 876.7,330.9 879.4,330.8 882.2,330.7 885.0,330.6 887.8,330.5 890.6,330.3 893.3,330.2 896.1,330.1 898.9,329.9 901.7,329.8 904.4,329.6 907.2,329.5 910.0,329.3 912.8,329.1 915.5,329.0 918.3,328.8 921.1,328.6 923.9,328.4 926.6,328.3 929.4,328.1 932.2,327.9 935.0,327.7 937.7,327.5 940.5,327.3 943.3,327.1 946.1,327.0 948.8,326.8 951.6,326.6 954.4,326.4 957.2,326.2 959.9,326.0 962.7,325.8 965.5,325.6 968.3,325.5 971.0,325.3 973.8,325.1 976.6,324.9 979.4,324.8 982.1,324.6 984.9,324.4 987.7,324.3 990.5,324.1 993.2,324.0 996.0,323.8 998.8,323.7 1001.6,323.5 1004.3,323.4 1007.1,323.3 1009.9,323.2 1012.7,323.0 1015.4,322.9 1018.2,322.8 1021.0,322.7 1023.8,322.7 1026.5,322.6 1029.3,322.5 1032.1,322.4 1034.9,322.4 1037.6,322.4 1040.4,322.3 1043.2,322.3 1046.0,322.3 1048.8,322.3 1051.5,322.3 1054.3,322.3 1057.1,322.3 1059.9,322.4 1062.6,322.4 1065.4,322.5 1068.2,322.5 1071.0,322.6 1073.7,322.7 1076.5,322.8 1079.3,323.0 1082.1,323.1 1084.8,323.2 1087.6,323.4 1090.4,323.6 1093.2,323.8 1095.9,324.0 1098.7,324.2 1101.5,324.5 1104.3,324.7 1107.0,325.0 1109.8,325.3 1112.6,325.6 1115.4,325.9 1118.1,326.2 1120.9,326.6 1123.7,326.9 1126.5,327.3 1129.2,327.7 1132.0,328.2 1134.8,328.6 1137.6,329.0 1140.3,329.5 1143.1,330.0 1145.9,330.5 1148.7,331.0 1151.4,331.5 1154.2,332.1 1157.0,332.6 1159.8,333.2 1162.5,333.7 1165.3,334.3 1168.1,334.9 1170.9,335.5 1173.6,336.2 1176.4,336.8 1179.2,337.5 1182.0,338.1 1184.7,338.8 1187.5,339.5 1190.3,340.2 1193.1,340.9 1195.9,341.6 1198.6,342.3 1201.4,343.1 1204.2,343.8 1207.0,344.5 1209.7,345.3 1212.5,346.1 1215.3,346.9 1218.1,347.6 1220.8,348.4 1223.6,349.2 1226.4,350.0 1229.2,350.9 1231.9,351.7 1234.7,352.5 1237.5,353.3 1240.3,354.2 1243.0,355.0 1245.8,355.9 1248.6,356.7 1251.4,357.6 1254.1,358.5 1256.9,359.3 1259.7,360.2 1262.5,361.1 1265.2,362.0 1268.0,362.8 1270.8,363.7 1273.6,364.6 1276.3,365.5 1279.1,366.4 1281.9,367.3 1284.7,368.2 1287.4,369.1 1290.2,370.0 1293.0,370.9 1295.8,371.8 1298.5,372.7 1301.3,373.6 1304.1,374.5 1306.9,375.4 1309.6,376.3 1312.4,377.2 1315.2,378.1 1318.0,379.0 1320.7,379.9 1323.5,380.8 1326.3,381.7 1329.1,382.6 1331.8,383.5 1334.6,384.4 1337.4,385.3 1340.2,386.2 1342.9,387.0 1345.7,387.9 1348.5,388.8 1351.3,389.6 1354.1,390.5 1356.8,391.4 1359.6,392.2 1362.4,393.1 1365.2,393.9 1367.9,394.7 1370.7,395.6 1373.5,396.4 1376.3,397.2 1379.0,398.0 1381.8,398.8 1384.6,399.6 1387.4,400.4 1390.1,401.2 1392.9,401.9 1395.7,402.7 1398.5,403.4 1401.2,404.2 1404.0,404.9 1406.8,405.6 1409.6,406.4 1412.3,407.1 1415.1,407.8 1417.9,408.5 1420.7,409.2 1423.4,409.9 1426.2,410.5 1429.0,411.2 1431.8,411.9 1434.5,412.5 1437.3,413.2 1440.1,413.8 1442.9,414.5 1445.6,415.1 1448.4,415.7 1451.2,416.4 1454.0,417.0 1456.7,417.6 1459.5,418.2 1462.3,418.8 1465.1,419.5 1467.8,420.1 1470.6,420.7 1473.4,421.3 1476.2,421.9 1478.9,422.4 1481.7,423.0 1484.5,423.6 1487.3,424.2 1490.0,424.8 1492.8,425.4 1495.6,425.9 1498.4,426.5 1501.2,427.1 1503.9,427.7 1506.7,428.2 1509.5,428.8 1512.3,429.4 1515.0,430.0 1517.8,430.5 1520.6,431.1 1523.4,431.7 1526.1,432.3 1528.9,432.8 1531.7,433.4 1534.5,434.0 1537.2,434.5 1540.0,435.1 1542.8,435.7 1545.6,436.3 1548.3,436.9 1551.1,437.4 1553.9,438.0 1556.7,438.6 1559.4,439.2 1562.2,439.8 1565.0,440.4 1567.8,441.0 1570.5,441.6 1573.3,442.2 1576.1,442.8 1578.9,443.4 1581.6,444.1 1584.4,444.7 1587.2,445.3 1590.0,445.9 1592.7,446.6 1595.5,447.2 1598.3,447.9 1601.1,448.5 1603.8,449.2 1606.6,449.8 1609.4,450.5 1612.2,451.2 1614.9,451.9 1617.7,452.6 1620.5,453.3 1623.3,454.0 1626.0,454.7 1628.8,455.4 1631.6,456.1 1634.4,456.9 1637.1,457.6 1639.9,458.3 1642.7,459.1 1645.5,459.9 1648.3,460.6 1651.0,461.4 1653.8,462.2 1656.6,463.0 1659.4,463.8 1662.1,464.7 1664.9,465.5 1667.7,466.3 1670.5,467.2 1673.2,468.0 1676.0,468.9 1678.8,469.8 1681.6,470.7 1684.3,471.6 1687.1,472.5 1689.9,473.4 1692.7,474.4 1695.4,475.3 1698.2,476.3 1701.0,477.2 1703.8,478.2 1706.5,479.2 1709.3,480.2 1712.1,481.1 1714.9,482.2 1717.6,483.2 1720.4,484.2 1723.2,485.2 1726.0,486.3 1728.7,487.3 1731.5,488.4 1734.3,489.4 1737.1,490.5 1739.8,491.6 1742.6,492.7 1745.4,493.8 1748.2,494.9 1750.9,496.0 1753.7,497.1 1756.5,498.2 1759.3,499.4 1762.0,500.5 1764.8,501.6 1767.6,502.8 1770.4,504.0 1773.1,505.1 1775.9,506.3 1778.7,507.5 1781.5,508.7 1784.2,509.9 1787.0,511.0 1789.8,512.3 1792.6,513.5 1795.3,514.7 1798.1,515.9 1800.9,517.1 1803.7,518.4 1806.5,519.6 1809.2,520.8 1812.0,522.1 1814.8,523.3 1817.6,524.6 1820.3,525.9 1823.1,527.1 1825.9,528.4 1828.7,529.7 1831.4,531.0 1834.2,532.3 1837.0,533.6 1839.8,534.8 1842.5,536.1 1845.3,537.5 1848.1,538.8 1850.9,540.1 1853.6,541.4 1856.4,542.7 1859.2,544.0 1862.0,545.3 1864.7,546.7 1867.5,548.0 1870.3,549.3 1873.1,550.7 1875.8,552.0 1878.6,553.4 1881.4,554.7 1884.2,556.1 1886.9,557.4 1889.7,558.8 1892.5,560.1 1895.3,561.5 1898.0,562.8 1900.8,564.2 1903.6,565.5 1906.4,566.9 1909.1,568.3 1911.9,569.6 1914.7,571.0 1917.5,572.4 1920.2,573.8 1923.0,575.1 1925.8,576.5 1928.6,577.9 1931.3,579.2 1934.1,580.6 1936.9,582.0 1939.7,583.4 1942.4,584.7 1945.2,586.1 1948.0,587.5" fill="none" stroke="#FF0000" stroke-width="11.0" stroke-linejoin="round"/>
<polygon points="285.5,207.0 308.0,168.0 263.0,168.0" fill="#FF0000"/>
<polygon points="562.3,309.0 584.8,270.0 539.8,270.0" fill="#FF0000"/>
<polygon points="839.0,356.7 861.5,317.7 816.5,317.7" fill="#FF0000"/>
<polygon points="1116.3,351.0 1138.8,312.0 1093.8,312.0" fill="#FF0000"/>
<polygon points="1393.2,427.0 1415.7,388.0 1370.7,388.0" fill="#FF0000"/>
<polygon points="1670.5,491.9 1693.0,452.9 1648.0,452.9" fill="#FF0000"/>
<polygon points="1948.0,610.0 1970.5,571.0 1925.5,571.0" fill="#FF0000"/>
</g>
<g font-family="'Liberation Serif','Times New Roman',serif" font-weight="bold" font-size="66" fill="#000"><text transform="translate(227.6,1444.9) scale(1,1.04)" text-anchor="end">60</text><text transform="translate(227.6,1174.9) scale(1,1.04)" text-anchor="end">80</text><text transform="translate(227.6,904.4) scale(1,1.04)" text-anchor="end">100</text><text transform="translate(227.6,636.1) scale(1,1.04)" text-anchor="end">120</text><text transform="translate(227.6,364.9) scale(1,1.04)" text-anchor="end">140</text><text transform="translate(227.6,94.6) scale(1,1.04)" text-anchor="end">160</text><text transform="translate(285.5,1563.6) scale(1,1.04)" text-anchor="middle">0</text><text transform="translate(562.2,1563.6) scale(1,1.04)" text-anchor="middle">24</text><text transform="translate(838.5,1563.6) scale(1,1.04)" text-anchor="middle">48</text><text transform="translate(1116.0,1563.6) scale(1,1.04)" text-anchor="middle">72</text><text transform="translate(1392.9,1563.6) scale(1,1.04)" text-anchor="middle">96</text><text transform="translate(1671.2,1563.6) scale(1,1.04)" text-anchor="middle">120</text><text transform="translate(1949.6,1563.6) scale(1,1.04)" text-anchor="middle">144</text></g>
<text font-family="'Liberation Serif','Times New Roman',serif" font-weight="bold" font-size="80" x="1144.5" y="1687" text-anchor="middle">Time (h)</text>
<text font-family="'Liberation Serif','Times New Roman',serif" font-weight="bold" font-size="81" transform="translate(95.6,758.5) rotate(-90)" x="0" y="0" text-anchor="middle"><tspan dx="-3.75">SC</tspan><tspan dx="-3.8">A</tspan><tspan dx="4.55"> (°)</tspan></text>
<rect x="297" y="1189.0" width="138" height="2.6" fill="#e8e8e8"/>
<rect x="295.5" y="1180.45" width="141.2" height="8.6" fill="#505050"/>
<rect x="292.8" y="1182.3" width="2.7" height="4.8" fill="#505050" opacity="0.75"/>
<rect x="436.7" y="1182.3" width="2.7" height="4.8" fill="#505050" opacity="0.75"/>
<rect x="350.5" y="1168.1" width="31.0" height="31.0" fill="#fff" stroke="#666" stroke-width="2.2"/>
<text font-family="'Liberation Serif','Times New Roman',serif" font-weight="bold" font-size="62" letter-spacing="-2" x="447" y="1204.3">D</text>
<rect x="295.5" y="1254.00" width="141.2" height="10.8" fill="#009600"/>
<rect x="292.8" y="1257.0" width="2.7" height="4.8" fill="#009600" opacity="0.75"/>
<rect x="436.7" y="1257.0" width="2.7" height="4.8" fill="#009600" opacity="0.75"/>
<circle cx="366" cy="1260.4" r="18.3" fill="#009600"/>
<text font-family="'Liberation Serif','Times New Roman',serif" font-weight="bold" font-size="62" letter-spacing="-2" x="447" y="1279.0">DT</text>
<rect x="295.5" y="1330.10" width="141.2" height="10.8" fill="#0072E0"/>
<rect x="292.8" y="1333.1" width="2.7" height="4.8" fill="#0072E0" opacity="0.75"/>
<rect x="436.7" y="1333.1" width="2.7" height="4.8" fill="#0072E0" opacity="0.75"/>
<polygon points="366.0,1310.0 388.5,1349.0 343.5,1349.0" fill="#0010C8"/>
<text font-family="'Liberation Serif','Times New Roman',serif" font-weight="bold" font-size="62" letter-spacing="-2" x="447" y="1355.1">DS</text>
<rect x="295.5" y="1406.25" width="141.2" height="11.0" fill="#FF0000"/>
<rect x="292.8" y="1409.3" width="2.7" height="4.8" fill="#FF0000" opacity="0.75"/>
<rect x="436.7" y="1409.3" width="2.7" height="4.8" fill="#FF0000" opacity="0.75"/>
<polygon points="366.0,1437.3 388.5,1398.3 343.5,1398.3" fill="#FF0000"/>
<text font-family="'Liberation Serif','Times New Roman',serif" font-weight="bold" font-size="62" letter-spacing="-2" x="447" y="1431.3">DST</text>
</svg>
</body></html>
